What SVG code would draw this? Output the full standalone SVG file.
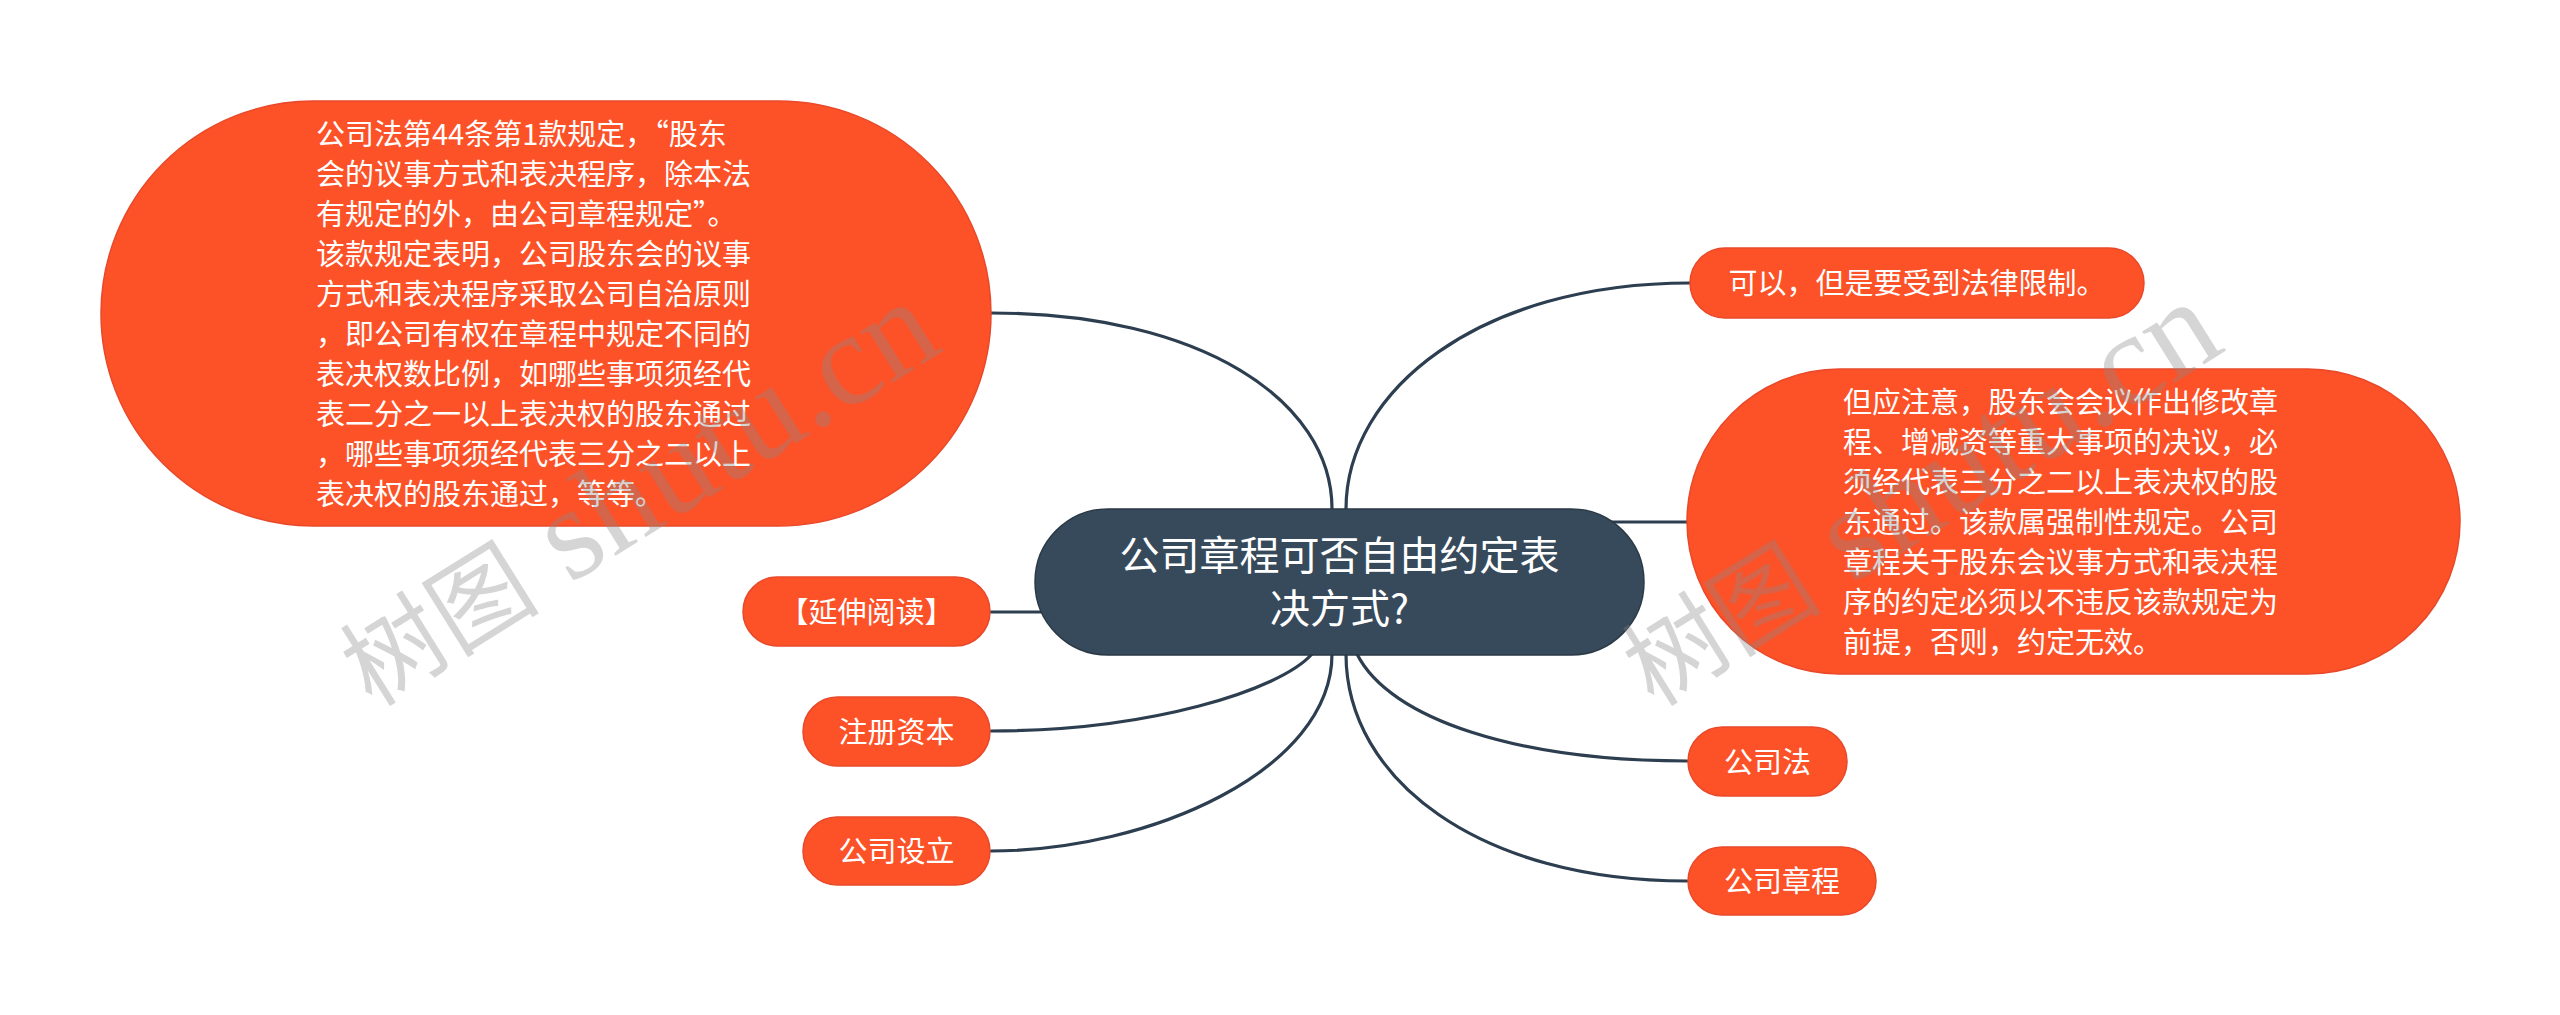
<svg xmlns="http://www.w3.org/2000/svg" width="2560" height="1015" viewBox="0 0 2560 1015">
<style>
.bg{fill:#ffffff}
.link{fill:none;stroke:#2c3e4f;stroke-width:3.2;stroke-linecap:round}
.main{fill:#374a5b;stroke:#2a3946;stroke-width:1.5}
.sub{fill:#fd5128;stroke:#e8492a;stroke-width:1.5}
.t{font-family:"Noto Sans CJK SC","Noto Sans",sans-serif;fill:#ffffff}
.t29{font-size:29px}
.t40{font-size:40px}
.mid{text-anchor:middle}
.wm{font-family:"Liberation Serif","Noto Sans CJK SC",serif;font-size:100px;fill:#8a8a8a;opacity:0.35}
.wmc{font-family:"Noto Sans CJK SC",sans-serif}
.wml{font-size:132px}
</style>
<rect class="bg" x="0" y="0" width="2560" height="1015"/>
<g id="connectors">
<path class="link" d="M1332,509 C1332,400 1200,313 991,313"/>
<path class="link" d="M1346,509 C1346,390 1480,283 1690,283"/>
<path class="link" d="M1571,522 L1687,522"/>
<path class="link" d="M991,612 L1108,612"/>
<path class="link" d="M1312,654 C1280,690 1150,731 991,731"/>
<path class="link" d="M1332,654 C1332,770 1150,851 991,851"/>
<path class="link" d="M1357,654 C1390,720 1520,761 1687,761"/>
<path class="link" d="M1346,654 C1346,780 1480,881 1687,881"/>
</g>
<g id="node-center">
<rect class="main" x="1035" y="509" width="609" height="146" rx="73"/>
<text class="t t40 mid" x="1339.5" y="570">公司章程可否自由约定表</text>
<text class="t t40 mid" x="1339.5" y="623">决方式?</text>
</g>
<g id="node-left-big">
<rect class="sub" x="101" y="101" width="890" height="425" rx="212.5"/>
<text class="t t29" x="316" y="144.5">公司法第44条第1款规定，“股东</text>
<text class="t t29" x="316" y="184.5">会的议事方式和表决程序，除本法</text>
<text class="t t29" x="316" y="224.5">有规定的外，由公司章程规定”。</text>
<text class="t t29" x="316" y="264.5">该款规定表明，公司股东会的议事</text>
<text class="t t29" x="316" y="304.5">方式和表决程序采取公司自治原则</text>
<text class="t t29" x="316" y="344.5">，即公司有权在章程中规定不同的</text>
<text class="t t29" x="316" y="384.5">表决权数比例，如哪些事项须经代</text>
<text class="t t29" x="316" y="424.5">表二分之一以上表决权的股东通过</text>
<text class="t t29" x="316" y="464.5">，哪些事项须经代表三分之二以上</text>
<text class="t t29" x="316" y="504.5">表决权的股东通过，等等。</text>
</g>
<g id="node-extend">
<rect class="sub" x="743" y="577" width="247" height="69" rx="34.5"/>
<text class="t t29 mid" x="866.5" y="622.5">【延伸阅读】</text>
</g>
<g id="node-capital">
<rect class="sub" x="803" y="697" width="187" height="69" rx="34.5"/>
<text class="t t29 mid" x="896.5" y="742.5">注册资本</text>
</g>
<g id="node-setup">
<rect class="sub" x="803" y="817" width="187" height="68" rx="34"/>
<text class="t t29 mid" x="896.5" y="862">公司设立</text>
</g>
<g id="node-yes">
<rect class="sub" x="1690" y="248" width="454" height="70" rx="35"/>
<text class="t t29 mid" x="1917" y="294">可以，但是要受到法律限制。</text>
</g>
<g id="node-right-big">
<rect class="sub" x="1687" y="369" width="773" height="305" rx="152.5"/>
<text class="t t29" x="1843" y="412.5">但应注意，股东会会议作出修改章</text>
<text class="t t29" x="1843" y="452.5">程、增减资等重大事项的决议，必</text>
<text class="t t29" x="1843" y="492.5">须经代表三分之二以上表决权的股</text>
<text class="t t29" x="1843" y="532.5">东通过。该款属强制性规定。公司</text>
<text class="t t29" x="1843" y="572.5">章程关于股东会议事方式和表决程</text>
<text class="t t29" x="1843" y="612.5">序的约定必须以不违反该款规定为</text>
<text class="t t29" x="1843" y="652.5">前提，否则，约定无效。</text>
</g>
<g id="node-law">
<rect class="sub" x="1688" y="727" width="159" height="69" rx="34.5"/>
<text class="t t29 mid" x="1767.5" y="772.5">公司法</text>
</g>
<g id="node-charter">
<rect class="sub" x="1688" y="847" width="188" height="68" rx="34"/>
<text class="t t29 mid" x="1782" y="892">公司章程</text>
</g>
<g id="watermark">
<text class="wm" transform="translate(372,708) rotate(-32)"><tspan class="wmc">树图</tspan><tspan class="wml"> shutu.cn</tspan></text>
<text class="wm" transform="translate(1654,708) rotate(-32)"><tspan class="wmc">树图</tspan><tspan class="wml"> shutu.cn</tspan></text>
</g>
</svg>
